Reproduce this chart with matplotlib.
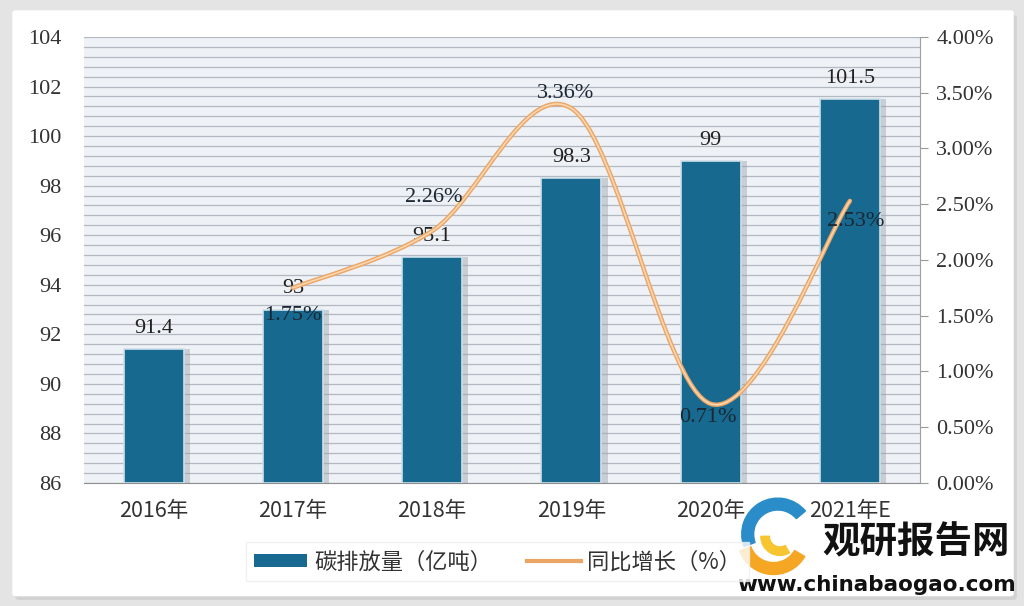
import matplotlib
matplotlib.use("Agg")

import matplotlib.pyplot as plt
import numpy as np
from matplotlib.lines import Line2D
from matplotlib.patches import FancyBboxPatch, PathPatch, Patch, Wedge
from matplotlib.path import Path

years = ["2016年", "2017年", "2018年", "2019年", "2020年", "2021年E"]
emissions = [91.4, 93, 95.1, 98.3, 99, 101.5]
emission_labels = ["91.4", "93", "95.1", "98.3", "99", "101.5"]
growth_years = ["2017年", "2018年", "2019年", "2020年", "2021年E"]
growth = [1.75, 2.26, 3.36, 0.71, 2.53]
growth_labels = ["1.75%", "2.26%", "3.36%", "0.71%", "2.53%"]
left_ticks = [86, 88, 90, 92, 94, 96, 98, 100, 102, 104]
right_ticks = [0.0, 0.5, 1.0, 1.5, 2.0, 2.5, 3.0, 3.5, 4.0]

# label offsets in points (dx, dy) for the growth labels
growth_offsets = [(0, -20), (1, 24), (-4, 11), (-2, -10), (4, -15)]

NUM_FONT = ["Liberation Serif", "Noto Sans CJK SC"]
CJK_FONT = ["Noto Sans CJK SC", "DejaVu Sans"]
BAR_COLOR = "#17698f"
LINE_COLOR = "#eba565"
FS = 16


def smooth_path(xs, ys):
    """Catmull-Rom style cubic Bezier path through the points."""
    pts = np.column_stack([xs, ys]).astype(float)
    ext = np.vstack([pts[0], pts, pts[-1]])
    verts = [pts[0]]
    codes = [Path.MOVETO]
    for i in range(len(pts) - 1):
        p0, p1, p2, p3 = ext[i], ext[i + 1], ext[i + 2], ext[i + 3]
        verts += [p1 + (p2 - p0) / 6, p2 - (p3 - p1) / 6, p2]
        codes += [Path.CURVE4] * 3
    return Path(verts, codes)


fig = plt.figure(figsize=(10.24, 6.06), dpi=100, facecolor="#e4e4e4")

# white card with soft shadow
fig.patches.append(FancyBboxPatch((0.015, 0.010), 0.978, 0.965, boxstyle="round,pad=0,rounding_size=0.004",
                                  transform=fig.transFigure, facecolor="#d2d2d2", edgecolor="none", zorder=-3))
fig.patches.append(FancyBboxPatch((0.012, 0.016), 0.978, 0.967, boxstyle="round,pad=0,rounding_size=0.004",
                                  transform=fig.transFigure, facecolor="white", edgecolor="none", zorder=-2))

ax = fig.add_axes([0.082, 0.203, 0.816, 0.736])
ax2 = ax.twinx()

x = np.arange(len(years))
ax.set_facecolor("#eef1f5")
ax.bar(x + 0.03, np.array(emissions) - 86, width=0.46, bottom=86, color="#9aa4ad", alpha=0.45, zorder=2)
bars = ax.bar(x, np.array(emissions) - 86, width=0.43, bottom=86, color=BAR_COLOR,
              edgecolor="#cfe0ea", linewidth=1.2, zorder=3)
for xi, v, lab in zip(x, emissions, emission_labels):
    ax.annotate(lab, (xi, v), xytext=(0, 8), textcoords="offset points", ha="center", va="bottom",
                fontsize=FS, family=NUM_FONT, color="#222222", zorder=5)

ax.set_xlim(-0.5, len(years) - 0.5)
ax.set_ylim(86, 104)
ax.set_yticks(left_ticks)
ax.set_yticks(np.arange(86, 104.01, 0.4), minor=True)
ax.grid(which="minor", axis="y", color="#b3b9c2", linewidth=0.9, zorder=1)
ax.grid(which="major", axis="y", color="#b3b9c2", linewidth=0.9, zorder=1)
ax.set_axisbelow(True)
ax.set_xticks(x)
ax.set_xticklabels(years, family=CJK_FONT, fontsize=FS - 0.5, color="#333333")
ax.tick_params(axis="x", length=0, pad=12)
ax.tick_params(axis="y", which="both", length=0, pad=16, labelsize=FS, labelcolor="#333333")
for t in ax.get_yticklabels():
    t.set_family(NUM_FONT)
for s in ["left", "top", "right"]:
    ax.spines[s].set_visible(False)
ax.spines["bottom"].set_color("#8f8f8f")

gx = [years.index(g) for g in growth_years]
path = smooth_path(gx, growth)
ax2.add_patch(PathPatch(path, facecolor="none", edgecolor=LINE_COLOR, linewidth=3.2, zorder=4,
                        capstyle="round"))
ax2.add_patch(PathPatch(path, facecolor="none", edgecolor="#f9d6b0", linewidth=1.2, zorder=4,
                        capstyle="round"))
for xi, v, lab, (dx, dy) in zip(gx, growth, growth_labels, growth_offsets):
    ax2.annotate(lab, (xi, v), xytext=(dx, dy), textcoords="offset points", ha="center", va="center",
                 fontsize=FS, family=NUM_FONT, color="#1b2733", zorder=6)

ax2.set_ylim(0, 4)
ax2.set_yticks(right_ticks)
ax2.set_yticklabels([f"{t:.2f}%" for t in right_ticks], family=NUM_FONT, fontsize=FS, color="#333333")
ax2.tick_params(axis="y", direction="out", length=6, color="#999999", pad=6)
for s in ["left", "top", "bottom"]:
    ax2.spines[s].set_visible(False)
ax2.spines["right"].set_color("#a0a0a0")

handles = [Patch(facecolor=BAR_COLOR, edgecolor="none"),
           Line2D([], [], color=LINE_COLOR, linewidth=3)]
leg = fig.legend(handles, ["碳排放量（亿吨）", "同比增长（%）"], loc="center", ncol=2,
                 bbox_to_anchor=(0.486, 0.073), frameon=True, fancybox=False, shadow=False,
                 prop={"family": CJK_FONT, "size": 16}, handlelength=2.4, handleheight=0.55,
                 handletextpad=0.3, columnspacing=1.6, borderpad=0.35, borderaxespad=0)
leg.get_frame().set_facecolor("white")
leg.get_frame().set_edgecolor("#eeeeee")
for t in leg.get_texts():
    t.set_color("#333333")

# watermark logo
lax = fig.add_axes([0.715, 0.045, 0.085, 0.14])
lax.set_xlim(-1, 1)
lax.set_ylim(-1, 1)
lax.set_aspect("equal")
lax.axis("off")
lax.add_patch(Wedge((0.05, 0.05), 0.85, 40, 200, width=0.28, color="#2a8cc8"))
lax.add_patch(Wedge((-0.05, -0.05), 0.85, 200, 330, width=0.28, color="#f5a623"))
lax.add_patch(Wedge((0.1, 0.0), 0.45, 180, 300, width=0.2, color="#f7c530"))
fig.text(0.803, 0.105, "观研报告网", family=CJK_FONT, fontsize=27, fontweight="bold", color="#111111",
         va="center", ha="left")
fig.text(0.72, 0.035, "www.chinabaogao.com", family=["DejaVu Sans"], fontsize=15.5, fontweight="bold",
         color="#111111", va="center", ha="left")

fig.savefig("out.png", dpi=100, facecolor=fig.get_facecolor())
